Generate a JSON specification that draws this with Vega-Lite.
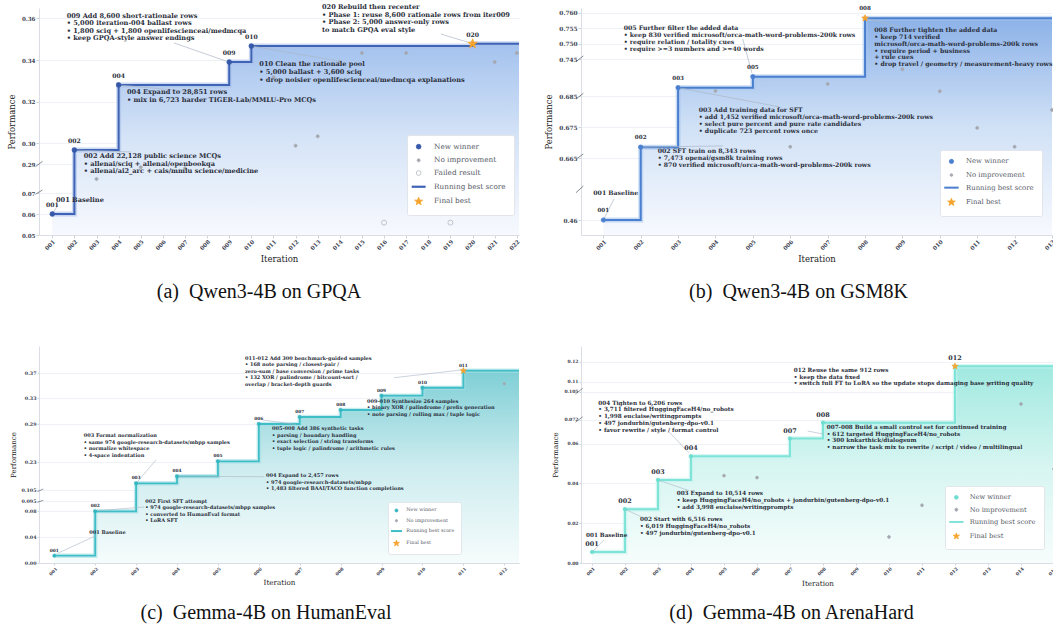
{
  "$schema": "https://vega.github.io/schema/vega-lite/v6.json",
  "background": "white",
  "padding": {"left": 7, "top": 4, "right": 0, "bottom": 0},
  "autosize": {"type": "pad"},
  "config": {
    "view": {"stroke": null},
    "font": "DejaVu Serif",
    "axis": {"labelFont": "DejaVu Serif", "labelFontWeight": "bold", "labelColor": "#3b4150", "titleFont": "DejaVu Serif", "titleFontWeight": "normal", "titleColor": "#222222", "domainColor": "#dadee4", "tickColor": "#cfd3d9", "tickSize": 3, "gridColor": "#eef1f5", "labelOverlap": false, "labelFlush": false, "labelPadding": 1},
    "title": {"orient": "bottom", "anchor": "middle", "frame": "group", "font": "Liberation Serif", "fontSize": 20, "fontWeight": "normal", "color": "#111111"},
    "legend": {"labelFont": "DejaVu Serif", "labelColor": "#555a66", "fillColor": "#ffffff", "strokeColor": "#e2e5ea", "cornerRadius": 2, "symbolStrokeWidth": 0.8}
  },
  "datasets": {
    "a_pts": [
      {"it": 1, "v": 0.06, "s": "New winner", "n": "001"},
      {"it": 2, "v": 0.2967, "s": "New winner", "n": "002"},
      {"it": 3, "v": 0.176, "s": "No improvement", "n": "003"},
      {"it": 4, "v": 0.328, "s": "New winner", "n": "004"},
      {"it": 5, "v": 0.265, "s": "No improvement", "n": "005"},
      {"it": 7, "v": 0.257, "s": "No improvement", "n": "007"},
      {"it": 9, "v": 0.339, "s": "New winner", "n": "009"},
      {"it": 10, "v": 0.3467, "s": "New winner", "n": "010"},
      {"it": 11, "v": 0.3317, "s": "No improvement", "n": "011"},
      {"it": 12, "v": 0.2988, "s": "No improvement", "n": "012"},
      {"it": 13, "v": 0.3033, "s": "No improvement", "n": "013"},
      {"it": 14, "v": 0.339, "s": "No improvement", "n": "014"},
      {"it": 15, "v": 0.3434, "s": "No improvement", "n": "015"},
      {"it": 16, "v": 0.0559, "s": "Failed result", "n": "016"},
      {"it": 17, "v": 0.3434, "s": "No improvement", "n": "017"},
      {"it": 19, "v": 0.0559, "s": "Failed result", "n": "019"},
      {"it": 20, "v": 0.3478, "s": "Final best", "n": "020"},
      {"it": 21, "v": 0.339, "s": "No improvement", "n": "021"},
      {"it": 22, "v": 0.3434, "s": "No improvement", "n": "022"}
    ],
    "a_best": [
      {"it": 1, "v": 0.06}, {"it": 2, "v": 0.2967}, {"it": 4, "v": 0.328}, {"it": 9, "v": 0.339},
      {"it": 10, "v": 0.3467}, {"it": 20, "v": 0.3478}, {"it": 22.1, "v": 0.3478}
    ],
    "a_ann": [
      {"it": 1.652, "v": 0.3628, "t": "009 Add 8,600 short-rationale rows\n• 5,000 iteration-004 ballast rows\n• 1,800 sciq + 1,800 openlifescienceai/medmcqa\n• keep GPQA-style answer endings"},
      {"it": 4.378, "v": 0.3261, "t": "004 Expand to 28,851 rows\n• mix in 6,723 harder TIGER-Lab/MMLU-Pro MCQs"},
      {"it": 10.36, "v": 0.3393, "t": "010 Clean the rationale pool\n• 5,000 ballast + 3,600 sciq\n• drop noisier openlifescienceai/medmcqa explanations"},
      {"it": 13.194, "v": 0.3669, "t": "020 Rebuild then recenter\n• Phase 1: reuse 8,600 rationale rows from iter009\n• Phase 2: 5,000 answer-only rows\n\u00a0\u00a0to match GPQA eval style"},
      {"it": 2.421, "v": 0.2953, "t": "002 Add 22,128 public science MCQs\n• allenai/sciq + allenai/openbookqa\n• allenai/ai2_arc + cais/mmlu science/medicine"},
      {"it": 1.169, "v": 0.0679, "t": "001 Baseline"}
    ],
    "a_lead": [
      {"it": 6.503, "v": 0.3482, "it2": 8.854, "v2": 0.3395},
      {"it": 4, "v": 0.328, "it2": 7.498, "v2": 0.3246},
      {"it": 10, "v": 0.3467, "it2": 13.96, "v2": 0.3395},
      {"it": 18.57, "v": 0.3525, "it2": 19.8, "v2": 0.3485},
      {"it": 2, "v": 0.2967, "it2": 4.56, "v2": 0.2958},
      {"it": 1, "v": 0.06, "it2": 1.259, "v2": 0.0643}
    ],
    "a_brk": [
      {"it": 0.242, "v": 0.2695, "it2": 0.558, "v2": 0.2913},
      {"it": 0.242, "v": 0.0694, "it2": 0.558, "v2": 0.0928}
    ],
    "b_pts": [
      {"it": 1, "v": 0.46, "s": "New winner", "n": "001"},
      {"it": 2, "v": 0.6685, "s": "New winner", "n": "002"},
      {"it": 3, "v": 0.6985, "s": "New winner", "n": "003"},
      {"it": 4, "v": 0.6931, "s": "No improvement", "n": "004"},
      {"it": 5, "v": 0.7163, "s": "New winner", "n": "005"},
      {"it": 6, "v": 0.6686, "s": "No improvement", "n": "006"},
      {"it": 7, "v": 0.7045, "s": "No improvement", "n": "007"},
      {"it": 8, "v": 0.7582, "s": "Final best", "n": "008"},
      {"it": 9, "v": 0.7283, "s": "No improvement", "n": "009"},
      {"it": 10, "v": 0.6926, "s": "No improvement", "n": "010"},
      {"it": 11, "v": 0.6747, "s": "No improvement", "n": "011"},
      {"it": 12, "v": 0.6686, "s": "No improvement", "n": "012"},
      {"it": 13, "v": 0.6805, "s": "No improvement", "n": "013"}
    ],
    "b_best": [
      {"it": 1, "v": 0.46}, {"it": 2, "v": 0.6685}, {"it": 3, "v": 0.6985}, {"it": 5, "v": 0.7163},
      {"it": 8, "v": 0.7582}, {"it": 13.0, "v": 0.7582}
    ],
    "b_ann": [
      {"it": 1.545, "v": 0.756, "t": "005 Further filter the added data\n• keep 830 verified microsoft/orca-math-word-problems-200k rows\n• require relation / totality cues\n• require >=3 numbers and >=40 words"},
      {"it": 3.551, "v": 0.6813, "t": "003 Add training data for SFT\n• add 1,452 verified microsoft/orca-math-word-problems-200k rows\n• select pure percent and pure rate candidates\n• duplicate 723 percent rows once"},
      {"it": 2.454, "v": 0.6682, "t": "002 SFT train on 8,343 rows\n• 7,473 openai/gsm8k training rows\n• 870 verified microsoft/orca-math-word-problems-200k rows"},
      {"it": 8.247, "v": 0.7554, "t": "008 Further tighten the added data\n• keep 714 verified\n\u00a0\u00a0microsoft/orca-math-word-problems-200k rows\n• require period + business\n\u00a0\u00a0+ rule cues\n• drop travel / geometry / measurement-heavy rows"},
      {"it": 0.732, "v": 0.5585, "t": "001 Baseline"}
    ],
    "b_lead": [
      {"it": 4.727, "v": 0.7515, "it2": 4.976, "v2": 0.7223},
      {"it": 3, "v": 0.6985, "it2": 5.699, "v2": 0.6815},
      {"it": 2, "v": 0.6685, "it2": 4.201, "v2": 0.6689},
      {"it": 8, "v": 0.7582, "it2": 8.961, "v2": 0.7554},
      {"it": 1, "v": 0.46, "it2": 1.286, "v2": 0.5294}
    ],
    "b_brk": [
      {"it": 0.269, "v": 0.7406, "it2": 0.465, "v2": 0.746},
      {"it": 0.269, "v": 0.684, "it2": 0.465, "v2": 0.6894},
      {"it": 0.269, "v": 0.6607, "it2": 0.465, "v2": 0.6663},
      {"it": 0.269, "v": 0.5503, "it2": 0.465, "v2": 0.5724}
    ],
    "c_pts": [
      {"it": 1, "v": 0.0113, "s": "New winner", "n": "001"},
      {"it": 2, "v": 0.0797, "s": "New winner", "n": "002"},
      {"it": 3, "v": 0.1362, "s": "New winner", "n": "003"},
      {"it": 4, "v": 0.1671, "s": "New winner", "n": "004"},
      {"it": 5, "v": 0.2311, "s": "New winner", "n": "005"},
      {"it": 6, "v": 0.29, "s": "New winner", "n": "006"},
      {"it": 7, "v": 0.301, "s": "New winner", "n": "007"},
      {"it": 8, "v": 0.312, "s": "New winner", "n": "008"},
      {"it": 9, "v": 0.3344, "s": "New winner", "n": "009"},
      {"it": 10, "v": 0.3469, "s": "New winner", "n": "010"},
      {"it": 11, "v": 0.3736, "s": "Final best", "n": "011"},
      {"it": 12, "v": 0.3532, "s": "No improvement", "n": "012"}
    ],
    "c_best": [
      {"it": 1, "v": 0.0113}, {"it": 2, "v": 0.0797}, {"it": 3, "v": 0.1362}, {"it": 4, "v": 0.1671},
      {"it": 5, "v": 0.2311}, {"it": 6, "v": 0.29}, {"it": 7, "v": 0.301}, {"it": 8, "v": 0.312},
      {"it": 9, "v": 0.3344}, {"it": 10, "v": 0.3469}, {"it": 11, "v": 0.3736}, {"it": 12.36, "v": 0.3736}
    ],
    "c_ann": [
      {"it": 1.856, "v": 0.0512, "t": "001 Baseline"},
      {"it": 3.224, "v": 0.0976, "t": "002 First SFT attempt\n• 974 google-research-datasets/mbpp samples\n• converted to HumanEval format\n• LoRA SFT"},
      {"it": 1.719, "v": 0.2755, "t": "003 Format normalization\n• same 974 google-research-datasets/mbpp samples\n• normalize whitespace\n• 4-space indentation"},
      {"it": 6.175, "v": 0.1807, "t": "004 Expand to 2,457 rows\n• 974 google-research-datasets/mbpp\n• 1,483 filtered BAAI/TACO function completions"},
      {"it": 6.321, "v": 0.2861, "t": "005-008 Add 386 synthetic tasks\n• parsing / boundary handling\n• exact selection / string transforms\n• tuple logic / palindrome / arithmetic rules"},
      {"it": 8.644, "v": 0.33, "t": "009-010 Synthesize 264 samples\n• binary XOR / palindrome / prefix generation\n• note parsing / rolling max / tuple logic"},
      {"it": 5.661, "v": 0.3971, "t": "011-012 Add 300 benchmark-guided samples\n• 168 note parsing / closest-pair /\n\u00a0\u00a0zero-sum / base conversion / prime tasks\n• 132 XOR / palindrome / bitcount-sort /\n\u00a0\u00a0overlap / bracket-depth guards"}
    ],
    "c_lead": [
      {"it": 1.083, "v": 0.015, "it2": 2.019, "v2": 0.0421},
      {"it": 2.061, "v": 0.0807, "it2": 3.2, "v2": 0.0864},
      {"it": 3, "v": 0.1362, "it2": 3.486, "v2": 0.2332},
      {"it": 4, "v": 0.1671, "it2": 6.133, "v2": 0.1653},
      {"it": 6.101, "v": 0.2963, "it2": 6.908, "v2": 0.2892},
      {"it": 9.304, "v": 0.3626, "it2": 10.94, "v2": 0.3747}
    ],
    "c_brk": [
      {"it": 0.584, "v": 0.1038, "it2": 0.731, "v2": 0.1112},
      {"it": 0.584, "v": 0.0936, "it2": 0.731, "v2": 0.096}
    ],
    "d_pts": [
      {"it": 1, "v": 0.0055, "s": "New winner", "n": "001"},
      {"it": 2, "v": 0.027, "s": "New winner", "n": "002"},
      {"it": 3, "v": 0.0417, "s": "New winner", "n": "003"},
      {"it": 4, "v": 0.0536, "s": "New winner", "n": "004"},
      {"it": 5, "v": 0.0439, "s": "No improvement", "n": "005"},
      {"it": 6, "v": 0.0429, "s": "No improvement", "n": "006"},
      {"it": 7, "v": 0.0625, "s": "New winner", "n": "007"},
      {"it": 8, "v": 0.0705, "s": "New winner", "n": "008"},
      {"it": 10, "v": 0.0131, "s": "No improvement", "n": "010"},
      {"it": 11, "v": 0.029, "s": "No improvement", "n": "011"},
      {"it": 12, "v": 0.1177, "s": "Final best", "n": "012"},
      {"it": 13, "v": 0.1083, "s": "No improvement", "n": "013"},
      {"it": 14, "v": 0.0905, "s": "No improvement", "n": "014"},
      {"it": 15, "v": 0.0472, "s": "No improvement", "n": "015"}
    ],
    "d_best": [
      {"it": 1, "v": 0.0055}, {"it": 2, "v": 0.027}, {"it": 3, "v": 0.0417}, {"it": 4, "v": 0.0536},
      {"it": 7, "v": 0.0625}, {"it": 8, "v": 0.0705}, {"it": 12, "v": 0.1177}, {"it": 15.0, "v": 0.1177}
    ],
    "d_ann": [
      {"it": 0.819, "v": 0.0155, "t": "001 Baseline"},
      {"it": 2.455, "v": 0.0234, "t": "002 Start with 6,516 rows\n• 6,019 HuggingFaceH4/no_robots\n• 497 jondurbin/gutenberg-dpo-v0.1"},
      {"it": 3.567, "v": 0.0366, "t": "003 Expand to 10,514 rows\n• keep HuggingFaceH4/no_robots + jondurbin/gutenberg-dpo-v0.1\n• add 3,998 euclaise/writingprompts"},
      {"it": 1.191, "v": 0.0955, "t": "004 Tighten to 6,206 rows\n• 3,711 filtered HuggingFaceH4/no_robots\n• 1,998 euclaise/writingprompts\n• 497 jondurbin/gutenberg-dpo-v0.1\n• favor rewrite / style / format control"},
      {"it": 8.113, "v": 0.0698, "t": "007-008 Build a small control set for continued training\n• 612 targeted HuggingFaceH4/no_robots\n• 300 knkarthick/dialogsum\n• narrow the task mix to rewrite / script / video / multilingual"},
      {"it": 7.113, "v": 0.1174, "t": "012 Reuse the same 912 rows\n• keep the data fixed\n• switch full FT to LoRA so the update stops damaging base writing quality"}
    ],
    "d_lead": [
      {"it": 1, "v": 0.0055, "it2": 1.373, "v2": 0.0116},
      {"it": 2, "v": 0.027, "it2": 2.485, "v2": 0.0233},
      {"it": 3, "v": 0.0417, "it2": 3.949, "v2": 0.0363},
      {"it": 3.343, "v": 0.0657, "it2": 3.94, "v2": 0.0553},
      {"it": 7.537, "v": 0.0663, "it2": 8.0, "v2": 0.0648}
    ],
    "d_brk": [
      {"it": 0.497, "v": 0.1023, "it2": 0.719, "v2": 0.1067},
      {"it": 0.497, "v": 0.0707, "it2": 0.719, "v2": 0.0755}
    ]
  },
  "bounds": "flush",
  "columns": 2,
  "spacing": {"row": 111, "column": 62},
  "resolve": {"scale": {"fill": "independent", "stroke": "independent", "shape": "independent"}},
  "concat": [
    {
      "width": 480, "height": 227,
      "title": {"text": "(a)\u00a0\u00a0Qwen3-4B on GPQA", "dx": -20, "offset": 19},
      "encoding": {
        "x": {"field": "it", "type": "quantitative", "scale": {"domain": [0.4, 22.1], "nice": false, "zero": false},
          "axis": {"title": "Iteration", "values": [1,2,3,4,5,6,7,8,9,10,11,12,13,14,15,16,17,18,19,20,21,22], "labelExpr": "(datum.value < 10 ? '00' : '0') + datum.value", "labelAngle": -45, "labelFontSize": 5.6, "titleFontSize": 8.5, "titlePadding": 3, "grid": false}},
        "y": {"field": "v", "type": "quantitative", "scale": {"domain": [0.05, 0.07, 0.29, 0.365], "range": [227, 185, 156, 0], "nice": false, "zero": false},
          "axis": {"title": "Performance", "values": [0.05, 0.06, 0.07, 0.29, 0.3, 0.32, 0.34, 0.36], "format": ".2f", "labelFontSize": 5.6, "titleFontSize": 8.5, "titlePadding": 5}}
      },
      "layer": [
        {"data": {"name": "a_best"}, "mark": {"type": "area", "interpolate": "step-after", "color": {"gradient": "linear", "x1": 0, "y1": 0, "x2": 0, "y2": 1, "stops": [{"offset": 0, "color": "#a3c2ee"}, {"offset": 0.5, "color": "#d6e4f7"}, {"offset": 1, "color": "#f7f9fe"}]}}, "encoding": {"y2": {"datum": 0.05}}},
        {"data": {"name": "a_best"}, "mark": {"type": "line", "interpolate": "step-after", "color": "#a9c0ea", "strokeWidth": 5, "opacity": 0.6}, "encoding": {}},
        {"data": {"name": "a_best"}, "mark": {"type": "line", "interpolate": "step-after", "color": "#3f63b5", "strokeWidth": 2}, "encoding": {}},
        {"data": {"name": "a_lead"}, "mark": {"type": "rule", "color": "#aab6c6", "strokeWidth": 0.7}, "encoding": {"x2": {"field": "it2"}, "y2": {"field": "v2"}}},
        {"data": {"name": "a_brk"}, "mark": {"type": "rule", "color": "#666b75", "strokeWidth": 0.8}, "encoding": {"x2": {"field": "it2"}, "y2": {"field": "v2"}}},
        {"data": {"name": "a_pts"}, "mark": {"type": "point", "filled": true, "opacity": 1, "strokeWidth": 0.8},
          "encoding": {
            "fill": {"field": "s", "type": "nominal", "scale": {"domain": ["New winner", "No improvement", "Failed result", "Running best score", "Final best"], "range": ["#3558a8", "#a4a8b0", "transparent", "#3f63b5", "#f6a32c"]},
              "legend": {"title": null, "orient": "none", "legendX": 368, "legendY": 127, "padding": 8, "labelFontSize": 7.3, "symbolSize": 22, "labelOffset": 11.7, "rowPadding": 4.7}},
            "stroke": {"field": "s", "type": "nominal", "scale": {"domain": ["New winner", "No improvement", "Failed result", "Running best score", "Final best"], "range": ["#3558a8", "#a4a8b0", "#b4b8bf", "transparent", "#f6a32c"]}},
            "shape": {"field": "s", "type": "nominal", "scale": {"domain": ["New winner", "No improvement", "Failed result", "Running best score", "Final best"], "range": ["circle", "M0.64,0A0.64,0.64 0 1,1 -0.64,0A0.64,0.64 0 1,1 0.64,0Z", "circle", "M-2.98,-0.47L2.98,-0.47L2.98,0.47L-2.98,0.47Z", "M0,-1.8L0.423,-0.583L1.712,-0.556L0.684,0.223L1.058,1.456L0,0.72L-1.058,1.456L-0.684,0.223L-1.712,-0.556L-0.423,-0.583Z"]}},
            "size": {"condition": [{"test": "datum.s === 'Final best'", "value": 30}, {"test": "datum.s === 'No improvement'", "value": 22}, {"test": "datum.s === 'Failed result'", "value": 25}], "value": 22}
          }},
        {"data": {"name": "a_pts"}, "transform": [{"filter": "datum.s === 'New winner' || datum.s === 'Final best'"}], "mark": {"type": "text", "dy": -9, "fontSize": 6.1, "fontWeight": "bold", "color": "#2b2f3b"}, "encoding": {"text": {"field": "n", "type": "nominal"}}},
        {"data": {"name": "a_ann"}, "mark": {"type": "text", "align": "left", "baseline": "top", "lineBreak": "\n", "fontSize": 6.6, "lineHeight": 7.6, "fontWeight": "bold", "color": "#2b2f3b"}, "encoding": {"text": {"field": "t", "type": "nominal"}}}
      ]
    },
    {
      "width": 471, "height": 227,
      "title": {"text": "(b)\u00a0\u00a0Qwen3-4B on GSM8K", "dx": -18, "offset": 19},
      "encoding": {
        "x": {"field": "it", "type": "quantitative", "scale": {"domain": [0.403, 13.0], "nice": false, "zero": false},
          "axis": {"title": "Iteration", "values": [1,2,3,4,5,6,7,8,9,10,11,12,13], "labelExpr": "(datum.value < 10 ? '00' : '0') + datum.value", "labelAngle": -45, "labelFontSize": 5.5, "titleFontSize": 8.5, "titlePadding": 3, "grid": false}},
        "y": {"field": "v", "type": "quantitative", "scale": {"domain": [0.455, 0.46, 0.665, 0.685, 0.745, 0.7615], "range": [227, 212, 150, 88, 51, 0], "nice": false, "zero": false},
          "axis": {"title": "Performance", "values": [0.46, 0.665, 0.675, 0.685, 0.745, 0.75, 0.755, 0.76], "labelExpr": "datum.value < 0.5 ? format(datum.value, '.2f') : format(datum.value, '.3f')", "labelFontSize": 5.8, "titleFontSize": 8.5, "titlePadding": 5.5}}
      },
      "layer": [
        {"data": {"name": "b_best"}, "mark": {"type": "area", "interpolate": "step-after", "color": {"gradient": "linear", "x1": 0, "y1": 0, "x2": 0, "y2": 1, "stops": [{"offset": 0, "color": "#8cb2e8"}, {"offset": 0.5, "color": "#d0e1f6"}, {"offset": 1, "color": "#f7f9fe"}]}}, "encoding": {"y2": {"datum": 0.455}}},
        {"data": {"name": "b_best"}, "mark": {"type": "line", "interpolate": "step-after", "color": "#a8c6ee", "strokeWidth": 5, "opacity": 0.6}, "encoding": {}},
        {"data": {"name": "b_best"}, "mark": {"type": "line", "interpolate": "step-after", "color": "#4a7fcf", "strokeWidth": 2}, "encoding": {}},
        {"data": {"name": "b_lead"}, "mark": {"type": "rule", "color": "#aab6c6", "strokeWidth": 0.7}, "encoding": {"x2": {"field": "it2"}, "y2": {"field": "v2"}}},
        {"data": {"name": "b_brk"}, "mark": {"type": "rule", "color": "#666b75", "strokeWidth": 0.8}, "encoding": {"x2": {"field": "it2"}, "y2": {"field": "v2"}}},
        {"data": {"name": "b_pts"}, "mark": {"type": "point", "filled": true, "opacity": 1, "strokeWidth": 0.8},
          "encoding": {
            "fill": {"field": "s", "type": "nominal", "scale": {"domain": ["New winner", "No improvement", "Running best score", "Final best"], "range": ["#4a7fcf", "#a4a8b0", "#4a7fcf", "#f6a32c"]},
              "legend": {"title": null, "orient": "none", "legendX": 359, "legendY": 142, "padding": 8, "labelFontSize": 6.9, "symbolSize": 18, "labelOffset": 11.1, "rowPadding": 4.6}},
            "stroke": {"field": "s", "type": "nominal", "scale": {"domain": ["New winner", "No improvement", "Running best score", "Final best"], "range": ["#4a7fcf", "#a4a8b0", "transparent", "#f6a32c"]}},
            "shape": {"field": "s", "type": "nominal", "scale": {"domain": ["New winner", "No improvement", "Running best score", "Final best"], "range": ["circle", "M0.65,0A0.65,0.65 0 1,1 -0.65,0A0.65,0.65 0 1,1 0.65,0Z", "M-3.4,-0.47L3.4,-0.47L3.4,0.47L-3.4,0.47Z", "M0,-1.9L0.447,-0.616L1.807,-0.587L0.722,0.236L1.117,1.537L0,0.76L-1.117,1.537L-0.722,0.236L-1.807,-0.587L-0.447,-0.616Z"]}},
            "size": {"condition": [{"test": "datum.s === 'Final best'", "value": 13}, {"test": "datum.s === 'No improvement'", "value": 21}], "value": 18}
          }},
        {"data": {"name": "b_pts"}, "transform": [{"filter": "datum.s === 'New winner' || datum.s === 'Final best'"}], "mark": {"type": "text", "dy": -10, "fontSize": 5.6, "fontWeight": "bold", "color": "#2b2f3b"}, "encoding": {"text": {"field": "n", "type": "nominal"}}},
        {"data": {"name": "b_ann"}, "mark": {"type": "text", "align": "left", "baseline": "top", "lineBreak": "\n", "fontSize": 6.2, "lineHeight": 6.9, "fontWeight": "bold", "color": "#2b2f3b"}, "encoding": {"text": {"field": "t", "type": "nominal"}}}
      ]
    },
    {
      "width": 480, "height": 217,
      "title": {"text": "(c)\u00a0\u00a0Gemma-4B on HumanEval", "dx": -13, "offset": 17},
      "encoding": {
        "x": {"field": "it", "type": "quantitative", "scale": {"domain": [0.626, 12.36], "nice": false, "zero": false},
          "axis": {"title": "Iteration", "values": [1,2,3,4,5,6,7,8,9,10,11,12], "labelExpr": "(datum.value < 10 ? '00' : '0') + datum.value", "labelAngle": -45, "labelFontSize": 4.5, "titleFontSize": 7.2, "titlePadding": 3, "tickSize": 2, "grid": false}},
        "y": {"field": "v", "type": "quantitative", "scale": {"domain": [0, 0.095, 0.105, 0.23, 0.29, 0.37, 0.4125], "range": [217, 155.4, 144.4, 116, 78, 27, 0], "nice": false, "zero": false},
          "axis": {"title": "Performance", "values": [0, 0.04, 0.08, 0.095, 0.105, 0.23, 0.29, 0.33, 0.37], "labelExpr": "(abs(datum.value - 0.095) < 1e-6 || abs(datum.value - 0.105) < 1e-6) ? format(datum.value, '.3f') : format(datum.value, '.2f')", "labelFontSize": 4.8, "titleFontSize": 7.1, "titlePadding": 4, "tickSize": 2}}
      },
      "layer": [
        {"data": {"name": "c_best"}, "mark": {"type": "area", "interpolate": "step-after", "color": {"gradient": "linear", "x1": 0, "y1": 0, "x2": 0, "y2": 1, "stops": [{"offset": 0, "color": "#7fcfd6"}, {"offset": 0.5, "color": "#cdecef"}, {"offset": 1, "color": "#f6fcfc"}]}}, "encoding": {"y2": {"datum": 0}}},
        {"data": {"name": "c_best"}, "mark": {"type": "line", "interpolate": "step-after", "color": "#a3e0e4", "strokeWidth": 4.5, "opacity": 0.6}, "encoding": {}},
        {"data": {"name": "c_best"}, "mark": {"type": "line", "interpolate": "step-after", "color": "#40bec7", "strokeWidth": 1.8}, "encoding": {}},
        {"data": {"name": "c_lead"}, "mark": {"type": "rule", "color": "#aab6c6", "strokeWidth": 0.6}, "encoding": {"x2": {"field": "it2"}, "y2": {"field": "v2"}}},
        {"data": {"name": "c_brk"}, "mark": {"type": "rule", "color": "#666b75", "strokeWidth": 0.7}, "encoding": {"x2": {"field": "it2"}, "y2": {"field": "v2"}}},
        {"data": {"name": "c_pts"}, "mark": {"type": "point", "filled": true, "opacity": 1, "strokeWidth": 0.6},
          "encoding": {
            "fill": {"field": "s", "type": "nominal", "scale": {"domain": ["New winner", "No improvement", "Running best score", "Final best"], "range": ["#35b5bf", "#a4a8b0", "#40bec7", "#f6a32c"]},
              "legend": {"title": null, "orient": "none", "legendX": 349, "legendY": 156, "padding": 6, "labelFontSize": 4.9, "symbolSize": 9, "labelOffset": 7.4, "rowPadding": 3.3}},
            "stroke": {"field": "s", "type": "nominal", "scale": {"domain": ["New winner", "No improvement", "Running best score", "Final best"], "range": ["#35b5bf", "#a4a8b0", "transparent", "#f6a32c"]}},
            "shape": {"field": "s", "type": "nominal", "scale": {"domain": ["New winner", "No improvement", "Running best score", "Final best"], "range": ["circle", "M0.77,0A0.77,0.77 0 1,1 -0.77,0A0.77,0.77 0 1,1 0.77,0Z", "M-3.67,-0.67L3.67,-0.67L3.67,0.67L-3.67,0.67Z", "M0,-2.1L0.494,-0.68L1.997,-0.649L0.798,0.26L1.235,1.699L0,0.84L-1.235,1.699L-0.798,0.26L-1.997,-0.649L-0.494,-0.68Z"]}},
            "size": {"condition": [{"test": "datum.s === 'Final best'", "value": 10}, {"test": "datum.s === 'No improvement'", "value": 12}], "value": 11}
          }},
        {"data": {"name": "c_pts"}, "transform": [{"filter": "datum.s === 'New winner' || datum.s === 'Final best'"}], "mark": {"type": "text", "dy": -5, "fontSize": 4.3, "fontWeight": "bold", "color": "#2b2f3b"}, "encoding": {"text": {"field": "n", "type": "nominal"}}},
        {"data": {"name": "c_ann"}, "mark": {"type": "text", "align": "left", "baseline": "top", "lineBreak": "\n", "fontSize": 5.0, "lineHeight": 6.5, "fontWeight": "bold", "color": "#2b2f3b"}, "encoding": {"text": {"field": "t", "type": "nominal"}}}
      ]
    },
    {
      "width": 473, "height": 217,
      "title": {"text": "(d)\u00a0\u00a0Gemma-4B on ArenaHard", "dx": -26, "offset": 17},
      "encoding": {
        "x": {"field": "it", "type": "quantitative", "scale": {"domain": [0.667, 15.0], "nice": false, "zero": false},
          "axis": {"title": "Iteration", "values": [1,2,3,4,5,6,7,8,9,10,11,12,13,14,15], "labelExpr": "(datum.value < 10 ? '00' : '0') + datum.value", "labelAngle": -45, "labelFontSize": 4.6, "titleFontSize": 7.2, "titlePadding": 3, "tickSize": 2, "grid": false}},
        "y": {"field": "v", "type": "quantitative", "scale": {"domain": [0, 0.072, 0.105, 0.1278], "range": [217, 73.7, 45.7, 0], "nice": false, "zero": false},
          "axis": {"title": "Performance", "values": [0, 0.02, 0.04, 0.06, 0.072, 0.105, 0.11, 0.12], "labelExpr": "(abs(datum.value - 0.072) < 1e-6 || abs(datum.value - 0.105) < 1e-6) ? format(datum.value, '.3f') : format(datum.value, '.2f')", "labelFontSize": 4.5, "titleFontSize": 7, "titlePadding": 5.5, "tickSize": 2}}
      },
      "layer": [
        {"data": {"name": "d_best"}, "mark": {"type": "area", "interpolate": "step-after", "color": {"gradient": "linear", "x1": 0, "y1": 0, "x2": 0, "y2": 1, "stops": [{"offset": 0, "color": "#a0e9e0"}, {"offset": 0.5, "color": "#d6f5f1"}, {"offset": 1, "color": "#f6fdfc"}]}}, "encoding": {"y2": {"datum": 0}}},
        {"data": {"name": "d_best"}, "mark": {"type": "line", "interpolate": "step-after", "color": "#c5f3ee", "strokeWidth": 4.5, "opacity": 0.7}, "encoding": {}},
        {"data": {"name": "d_best"}, "mark": {"type": "line", "interpolate": "step-after", "color": "#7fe3d8", "strokeWidth": 2}, "encoding": {}},
        {"data": {"name": "d_lead"}, "mark": {"type": "rule", "color": "#aab6c6", "strokeWidth": 0.6}, "encoding": {"x2": {"field": "it2"}, "y2": {"field": "v2"}}},
        {"data": {"name": "d_brk"}, "mark": {"type": "rule", "color": "#666b75", "strokeWidth": 0.7}, "encoding": {"x2": {"field": "it2"}, "y2": {"field": "v2"}}},
        {"data": {"name": "d_pts"}, "mark": {"type": "point", "filled": true, "opacity": 1, "strokeWidth": 0.6},
          "encoding": {
            "fill": {"field": "s", "type": "nominal", "scale": {"domain": ["New winner", "No improvement", "Running best score", "Final best"], "range": ["#6fdcd0", "#a4a8b0", "#7fe3d8", "#f6a32c"]},
              "legend": {"title": null, "orient": "none", "legendX": 364, "legendY": 140, "padding": 8, "labelFontSize": 6.7, "symbolSize": 14, "labelOffset": 10, "rowPadding": 4.3}},
            "stroke": {"field": "s", "type": "nominal", "scale": {"domain": ["New winner", "No improvement", "Running best score", "Final best"], "range": ["#6fdcd0", "#a4a8b0", "transparent", "#f6a32c"]}},
            "shape": {"field": "s", "type": "nominal", "scale": {"domain": ["New winner", "No improvement", "Running best score", "Final best"], "range": ["circle", "M0.8,0A0.8,0.8 0 1,1 -0.8,0A0.8,0.8 0 1,1 0.8,0Z", "M-3.82,-0.53L3.82,-0.53L3.82,0.53L-3.82,0.53Z", "M0,-1.77L0.416,-0.573L1.683,-0.547L0.673,0.219L1.041,1.432L0,0.708L-1.041,1.432L-0.673,0.219L-1.683,-0.547L-0.416,-0.573Z"]}},
            "size": {"condition": [{"test": "datum.s === 'Final best'", "value": 14}, {"test": "datum.s === 'No improvement'", "value": 14}], "value": 13}
          }},
        {"data": {"name": "d_pts"}, "transform": [{"filter": "datum.s === 'New winner' || datum.s === 'Final best'"}], "mark": {"type": "text", "dy": -8, "fontSize": 6.4, "fontWeight": "bold", "color": "#2b2f3b"}, "encoding": {"text": {"field": "n", "type": "nominal"}}},
        {"data": {"name": "d_ann"}, "mark": {"type": "text", "align": "left", "baseline": "top", "lineBreak": "\n", "fontSize": 5.7, "lineHeight": 6.7, "fontWeight": "bold", "color": "#2b2f3b"}, "encoding": {"text": {"field": "t", "type": "nominal"}}}
      ]
    }
  ]
}
